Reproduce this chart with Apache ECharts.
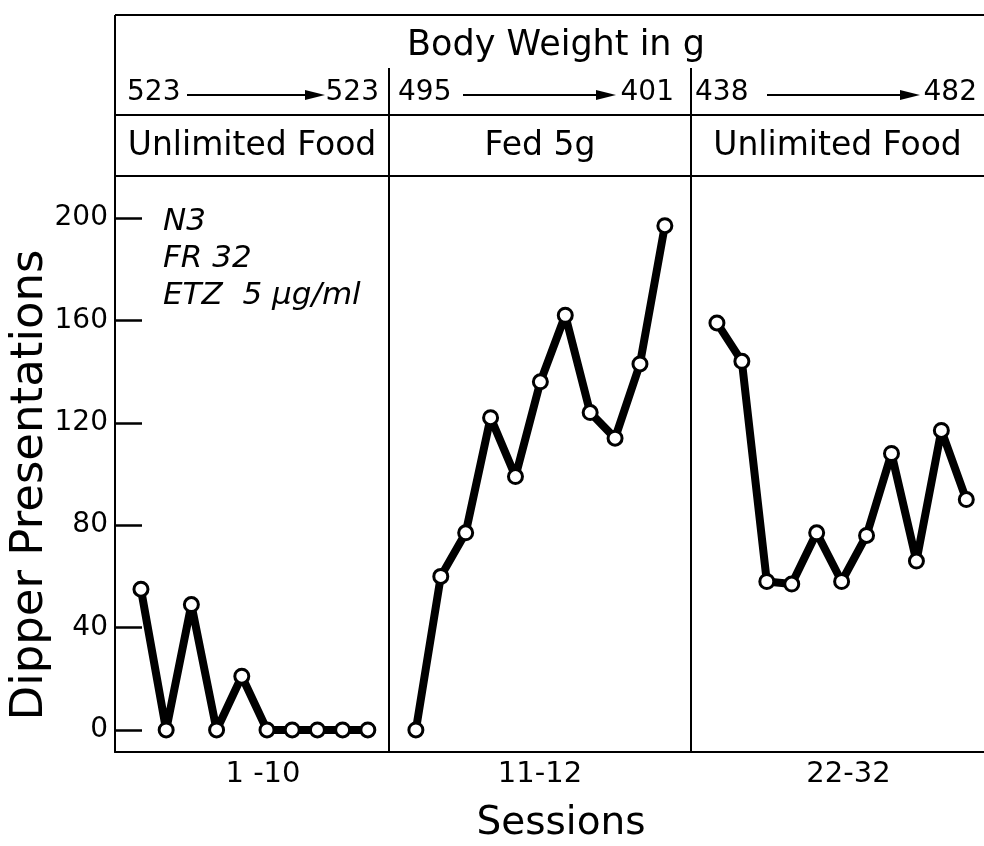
<!DOCTYPE html>
<html><head><meta charset="utf-8">
<script src="https://cdn.jsdelivr.net/npm/echarts@6/dist/echarts.min.js"></script>
<style>html,body{margin:0;padding:0;background:#fff}#c{width:984px;height:846px}</style>
</head><body><div id="c"></div>
<script>
// ---- data ----
const sessions1 = [1, 2, 3, 4, 5, 6, 7, 8, 9, 10];
const presentations1 = [55, 0, 49, 0, 21, 0, 0, 0, 0, 0];
const sessions2 = [11, 12, 13, 14, 15, 16, 17, 18, 19, 20, 21];
const presentations2 = [0, 60, 77, 122, 99, 136, 162, 124, 114, 143, 197];
const sessions3 = [22, 23, 24, 25, 26, 27, 28, 29, 30, 31, 32];
const presentations3 = [159, 144, 58, 57, 77, 58, 76, 108, 66, 117, 90];
const conditions = ['Unlimited Food', 'Fed 5g', 'Unlimited Food'];
const weightStart = ['523', '495', '438'];
const weightEnd = ['523', '401', '482'];
const sessionLabels = ['1 -10', '11-12', '22-32'];
const yTicks = [0, 40, 80, 120, 160, 200];
const annotation = ['N3', 'FR 32', 'ETZ  5 µg/ml'];

// ---- layout ----
const FONT = 'DejaVu Sans';
const TOP = 15, ROW1 = 115, PLOT_TOP = 176, BOTTOM = 752, DIV_TOP = 68, RIGHT = 984;
const lefts = [115, 389, 691];
const widths = [274, 302, 295];
const xRanges = [[-0.03, 10.84], [9.92, 22.05], [20.96, 32.71]];
const Y_MIN = -8.6, Y_MAX = 216.4;
const nameShift = [22, 0, 22];
const startX = [127, 398, 695];
const endX = [379, 674, 977];
const arrowX = [[187, 325], [463, 616], [767, 920]];

const seriesData = [
  sessions1.map((s, i) => [s, presentations1[i]]),
  sessions2.map((s, i) => [s, presentations2[i]]),
  sessions3.map((s, i) => [s, presentations3[i]])
];

const grids = [], xAxes = [], yAxes = [], series = [];
for (let p = 0; p < 3; p++) {
  grids.push({left: lefts[p], top: PLOT_TOP, width: widths[p], height: BOTTOM - PLOT_TOP, containLabel: false});
  xAxes.push({
    type: 'value', gridIndex: p, min: xRanges[p][0], max: xRanges[p][1],
    axisLine: {onZero: false, lineStyle: {color: '#000', width: 2}},
    axisTick: {show: false}, axisLabel: {show: false}, splitLine: {show: false},
    name: sessionLabels[p], nameLocation: 'middle', nameGap: 8,
    nameTextStyle: {fontFamily: FONT, fontSize: 29, color: '#000', verticalAlign: 'top', padding: [0, 0, 0, nameShift[p]]}
  });
  const y = {
    type: 'value', gridIndex: p, min: Y_MIN, max: Y_MAX,
    axisLine: {show: true, onZero: false, lineStyle: {color: '#000', width: 2}},
    splitLine: {show: false},
    axisTick: {show: false}, axisLabel: {show: false}
  };
  if (p === 0) {
    y.axisLabel = {show: true, customValues: yTicks, margin: 7, fontFamily: FONT, fontSize: 28, color: '#000'};
  }
  yAxes.push(y);
  series.push({
    type: 'line', xAxisIndex: p, yAxisIndex: p, data: seriesData[p],
    symbol: 'circle', symbolSize: 14, showAllSymbol: true,
    lineStyle: {color: '#000', width: 8},
    itemStyle: {color: '#fff', borderColor: '#000', borderWidth: 3},
    emphasis: {disabled: true}, animation: false, clip: false, z: 3
  });
}
// tick marks drawn inside the first panel: a shifted axis whose outward ticks reach back to the frame
yAxes.push({
  type: 'value', gridIndex: 0, position: 'left', offset: -27, min: Y_MIN, max: Y_MAX,
  axisLine: {show: false, onZero: false},
  axisTick: {show: true, length: 27, customValues: yTicks, lineStyle: {color: '#000', width: 2.5}},
  axisLabel: {show: false}, splitLine: {show: false}
});

const graphic = [];
const line = (x1, y1, x2, y2, w) => graphic.push({type: 'line', shape: {x1, y1, x2, y2}, style: {stroke: '#000', lineWidth: w || 2}, z: 10});
const text = (t, x, y, size, align, extra) => graphic.push({type: 'text', x, y, style: Object.assign({text: t, font: size + 'px "' + FONT + '"', fill: '#000', align: align, verticalAlign: 'middle'}, extra || {}), z: 10});

line(lefts[0], TOP, RIGHT, TOP);
line(lefts[0], TOP, lefts[0], PLOT_TOP);
line(lefts[0], ROW1, RIGHT, ROW1);
line(lefts[0], PLOT_TOP, RIGHT, PLOT_TOP);
line(lefts[1], DIV_TOP, lefts[1], PLOT_TOP);
line(lefts[2], DIV_TOP, lefts[2], PLOT_TOP);
text('Body Weight in g', 556, 46, 35, 'center');
for (let p = 0; p < 3; p++) {
  text(weightStart[p], startX[p], 93, 28, 'left');
  text(weightEnd[p], endX[p], 93, 28, 'right');
  const [a, b] = arrowX[p];
  line(a, 95, b - 14, 95, 2);
  graphic.push({type: 'polygon', shape: {points: [[b - 20, 90], [b, 95], [b - 20, 100]]}, style: {fill: '#000'}, z: 10});
  text(conditions[p], lefts[p] + widths[p] / 2 + (p === 2 ? -1 : 0), 146, 33, 'center');
}
annotation.forEach((t, i) => text(t, 163, 222 + i * 37, 31, 'left', {font: 'italic 31px "' + FONT + '"'}));
text('Sessions', 561, 824, 39, 'center');
graphic.push({type: 'text', x: 30, y: 485, rotation: Math.PI / 2,
  style: {text: 'Dipper Presentations', font: '45px "' + FONT + '"', fill: '#000', align: 'center', verticalAlign: 'middle'}, z: 10});

const chart = echarts.init(document.getElementById('c'), null, {renderer: 'canvas'});
chart.setOption({
  animation: false,
  backgroundColor: '#fff',
  grid: grids, xAxis: xAxes, yAxis: yAxes, series: series,
  graphic: graphic
});
</script>
</body></html>
